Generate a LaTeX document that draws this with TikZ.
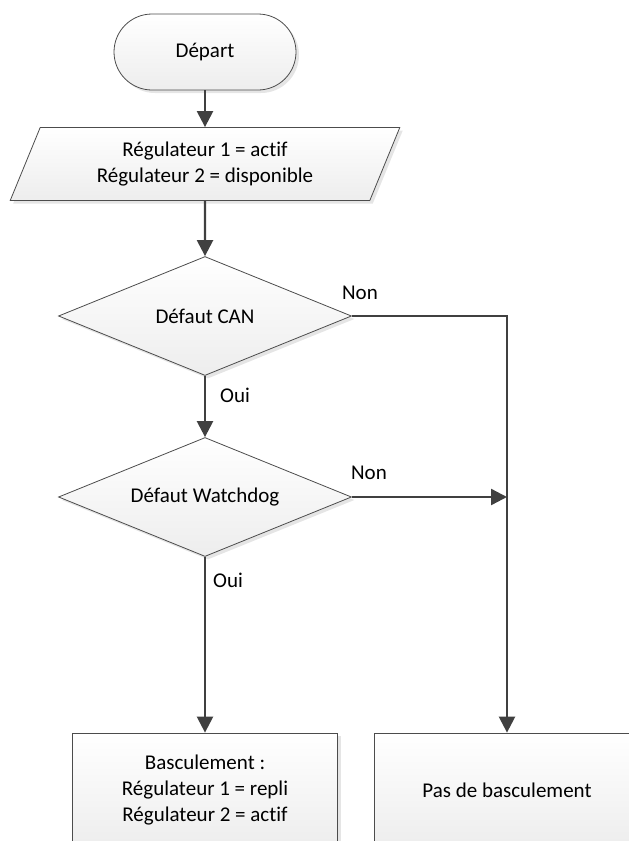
\documentclass[tikz,border=0pt]{standalone}
\usepackage{fontspec}
\setmainfont{Carlito}[Ligatures=NoCommon]
\usetikzlibrary{shapes.geometric,arrows.meta,shadows}

\begin{document}
\begin{tikzpicture}[x=1pt,y=-1pt,
  every node/.style={font=\fontsize{21}{26}\selectfont},
  blk/.style={draw=gray!60!black,line width=0.8pt,top color=white,bottom color=gray!14,
    drop shadow={shadow xshift=3pt,shadow yshift=-3pt,fill=gray!40,opacity=0.5},
    align=center,inner sep=0pt},
  test/.style={blk,diamond,aspect=2.46,minimum width=293pt,minimum height=119pt},
  flow/.style={draw=black!75,line width=2.4pt,-{Triangle[length=16pt,width=16pt]}},
  lbl/.style={inner sep=1pt}]
\useasboundingbox (0,0) rectangle (629,841);
\clip (0,0) rectangle (629,841);

\node[blk,rounded corners=38pt,minimum width=182pt,minimum height=76pt] (start) at (205,52) {Départ};
\node[blk,trapezium,trapezium left angle=66,trapezium right angle=114,trapezium stretches=true,
  minimum width=390pt,minimum height=73pt] (init) at (205,164) {Régulateur 1 = actif\\Régulateur 2 = disponible};
\node[test] (canq) at (205,316) {Défaut CAN};
\node[test] (wdq) at (205,497) {Défaut Watchdog};
\node[blk,minimum width=265pt,minimum height=114pt] (yesbox) at (205,790) {Basculement :\\Régulateur 1 = repli\\Régulateur 2 = actif};
\node[blk,minimum width=265pt,minimum height=114pt] (nobox) at (507,790) {Pas de basculement};

\draw[flow] (start) -- (init);
\draw[flow] (init) -- (canq);
\draw[flow] (canq) -- (wdq);
\draw[flow] (wdq) -- (yesbox);
\draw[flow] (canq.east) -| (nobox.north);
\draw[flow] (wdq.east) -- (wdq.east -| nobox.north);

\node[lbl] (non1) at (360,293) {Non};
\node[lbl] (oui1) at (235,395) {Oui};
\node[lbl] (non2) at (369,473) {Non};
\node[lbl] (oui2) at (228,580) {Oui};

\end{tikzpicture}
\end{document}
